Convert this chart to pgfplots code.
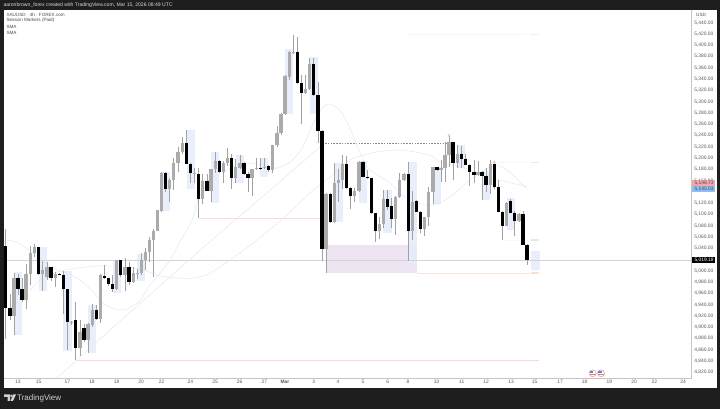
\documentclass[border=0pt]{standalone}
\usepackage{pgfplots}
\usepackage{pgfplotstable}
\usepackage{fontspec}
\setmainfont{Liberation Sans}
\pgfplotsset{compat=1.18}
\definecolor{frame}{HTML}{1E1E1E}
\definecolor{axisln}{HTML}{C6C6C6}
\definecolor{sess}{HTML}{E5ECFB}
\definecolor{upc}{HTML}{ABABAB}
\definecolor{wick}{HTML}{A2A2A2}
\definecolor{smablue}{HTML}{E0EBFB}
\definecolor{smapink}{HTML}{FBE2E2}
\definecolor{smadiag}{HTML}{ECE8E9}
\definecolor{zone}{HTML}{ECE4F0}
\definecolor{lastln}{HTML}{D4D4D4}
\definecolor{redln}{HTML}{FBD8DA}
\definecolor{oranln}{HTML}{F9E4DA}
\definecolor{yelln}{HTML}{F8F8E8}
\definecolor{tealln}{HTML}{E6F4F0}
\definecolor{yellab}{HTML}{F3F3D8}
\definecolor{teallab}{HTML}{D8F0EA}
\definecolor{oranlab}{HTML}{F9E0CE}
\definecolor{pivfill}{HTML}{FCD7D7}
\definecolor{pivdraw}{HTML}{F4AAAF}
\definecolor{tagpink}{HTML}{F4A6AA}
\definecolor{tagblue}{HTML}{8FBDF5}
\definecolor{flagring}{HTML}{F8AAB2}
\definecolor{flagred}{HTML}{EB7882}
\definecolor{flagblue}{HTML}{468CE6}
\pgfplotstableread{
x o h l c
14 4920 4997 4886 4988
26 4949 5013 4933 4995
30.3 4995 5044 4975 5032
34.3 5031 5048 5025 5042
42.7 4994 5018 4965 5001
47 4989 5016 4984 5006
55.3 4988 4998 4972 4994
71.7 4908 4911 4904 4910
80 4864 4913 4849 4892
88 4877 4908 4855 4906
92.3 4904 4942 4901 4930
100.3 4914 4995 4907 4993
116.7 4967 5020 4966 5019
125 4993 5022 4965 5006
133.3 4981 5007 4978 4996
137.3 4996 5003 4985 4997
141.3 4996 5031 4993 5020
145.3 5020 5040 5001 5034
149.7 5034 5060 5016 5055
153.7 5055 5075 4990 5071
157.7 5071 5108 5070 5108
161.7 5107 5175 5105 5174
169.7 5145 5164 5123 5162
173.7 5162 5200 5143 5192
178 5192 5220 5176 5210
182.3 5210 5237 5208 5227
194.7 5172 5183 5155 5174
202.7 5128 5172 5119 5160
211 5142 5181 5123 5180
215.3 5180 5210 5173 5195
223.3 5175 5194 5156 5191
227.7 5191 5217 5186 5201
235.7 5164 5198 5155 5184
240 5183 5205 5180 5192
252 5164 5181 5132 5180
256.3 5180 5201 5178 5182
264.7 5183 5200 5180 5185
272.7 5178 5224 5174 5223
277 5223 5257 5220 5245
281 5244 5280 5241 5279
285 5278 5347 5277 5346
289.3 5343 5390 5338 5388
293.3 5386 5418 5385 5389
305.7 5315 5347 5313 5322
309.7 5322 5377 5321 5366
326 5038 5138 4997 5137
334.3 5087 5191 5084 5155
338.3 5155 5180 5123 5161
342.7 5161 5206 5145 5190
354.7 5133 5147 5123 5142
359 5141 5194 5140 5193
379.3 5070 5096 5056 5083
383.3 5083 5144 5076 5127
395.7 5092 5132 5064 5131
399.7 5131 5173 5130 5161
404 5161 5174 5160 5172
412.3 5070 5141 5055 5123
424.7 5074 5096 5061 5095
428.7 5095 5148 5079 5139
433 5139 5185 5119 5184
441 5179 5197 5157 5183
445 5182 5229 5157 5205
449 5205 5240 5185 5228
457.3 5192 5223 5182 5208
478 5170 5194 5169 5176
490.3 5153 5197 5137 5189
506.7 5080 5122 5079 5121
519 5089 5102 5087 5101
}\upT
\pgfplotstableread{
x o h l c
5.3 5044 5075 4879 4935
10 4935 4959 4912 4920
18 4988 4995 4957 4967
22 4967 4987 4945 4949
38.7 5042 5043 4992 4994
51 5006 5007 4982 4988
59.4 4994 4996 4992 4993
63.3 4993 4999 4923 4967
67.7 4967 4968 4860 4910
75.7 4913 4944 4842 4864
84 4899 4905 4874 4877
96.3 4930 4939 4913 4914
104.3 4991 5010 4985 4987
108.3 4987 4988 4973 4976
112.7 4976 4993 4963 4967
120.7 5019 5020 4990 4993
129 5006 5016 4975 4981
165.7 5174 5176 5140 5145
186.3 5227 5250 5190 5190
190.7 5190 5191 5156 5173
198.7 5172 5182 5093 5128
207 5160 5172 5141 5142
219.3 5195 5196 5174 5175
231.7 5201 5208 5146 5164
244 5192 5193 5170 5171
248 5171 5176 5140 5164
260.3 5183 5200 5179 5181
268.7 5186 5187 5175 5178
297.3 5389 5415 5332 5333
301.7 5333 5347 5260 5315
313.7 5366 5377 5310 5311
318 5311 5335 5226 5248
322 5248 5249 5017 5038
330.3 5137 5138 5084 5087
346.7 5190 5204 5145 5147
350.7 5147 5148 5109 5133
363 5193 5195 5166 5167
367.3 5167 5179 5163 5164
371.3 5164 5165 5100 5102
375.3 5102 5103 5052 5070
387.3 5127 5144 5108 5114
391.7 5115 5129 5076 5092
408.3 5172 5193 5017 5070
416.3 5124 5125 5104 5105
420.7 5105 5106 5067 5074
437 5184 5185 5177 5178
453 5228 5229 5161 5192
461.7 5208 5222 5182 5199
465.7 5199 5208 5187 5188
469.7 5188 5189 5150 5176
474 5176 5197 5155 5170
482 5176 5177 5126 5169
486 5169 5182 5140 5153
494.3 5189 5195 5146 5149
498.3 5149 5161 5104 5105
502.3 5105 5106 5055 5080
510.7 5124 5128 5102 5103
514.7 5103 5106 5062 5089
523 5101 5106 5045 5046
527 5046 5047 5010 5019
}\dnT
\newcommand\sessbox[4]{\addplot[draw=none,fill=sess,fill opacity=0.85,forget plot] coordinates {(#1,#3)(#2,#3)(#2,#4)(#1,#4)} --cycle;}
\newcommand\fnt[1]{\fontsize{#1}{#1}\selectfont}
\begin{document}
\begin{tikzpicture}[x=1pt,y=1pt]
\useasboundingbox (0,0) rectangle (720,409);
\fill[frame] (0,0) rectangle (720,409);
\fill[white] (3.5,21.3) rectangle (716.7,399);
\begin{axis}[
  at={(4pt,30.7pt)},anchor=south west,
  scale only axis,width=687.7pt,height=368.3pt,
  xmin=4,xmax=691.7,ymin=4809.5,ymax=5462.6,
  axis x line*=bottom,axis y line*=right,
  axis line style={-,draw=axisln,line width=0.7pt},
  major tick length=0pt,
  xtick={18,38.7,67.3,92,116.7,141,161.7,190.3,215,239.7,264.3,285,313.7,338,363,387.7,408,436.7,461.7,486,511,534.7,560,584.7,609.3,634,654.3,683},
  xticklabels={13,15,17,18,19,20,22,24,25,26,27,\textbf{Mar},3,4,5,6,8,10,11,12,13,15,17,18,19,20,22,24},
  xticklabel style={font=\fnt{4.9},text=black!65,inner sep=0pt,yshift=-1.6pt},
  ytick={4820,4840,...,5000,5040,5060,...,5120,5160,5180,...,5440},
  yticklabel style={font=\fnt{4.9},text=black!65,inner sep=0pt,xshift=2.4pt,
    /pgf/number format/.cd,fixed,fixed zerofill,precision=2,1000 sep={,},assume math mode=true},
  clip=true,
]
% purple zone
\addplot[draw=none,fill=zone,forget plot] coordinates {(326,5046)(416.5,5046)(416.5,4996)(326,4996)} --cycle;
% session boxes
\sessbox{14}{22}{4998}{4886}
\sessbox{38.7}{46.7}{5042}{4965}
\sessbox{63.3}{71.7}{5000}{4858}
\sessbox{88.3}{96.3}{4939}{4854}
\sessbox{113.3}{121.3}{5019}{4961}
\sessbox{137.3}{145.3}{5030}{4982}
\sessbox{161.7}{170}{5176}{5107}
\sessbox{186.7}{195}{5250}{5145}
\sessbox{211}{219.3}{5211}{5121}
\sessbox{235.7}{244}{5205}{5155}
\sessbox{260}{268.3}{5200}{5166}
\sessbox{285}{293.3}{5393}{5278}
\sessbox{309.7}{318}{5379}{5278}
\sessbox{334.3}{342.7}{5191}{5086}
\sessbox{359}{367.3}{5194}{5121}
\sessbox{383.3}{391.7}{5144}{5067}
\sessbox{408.3}{416.5}{5193}{5014}
\sessbox{433}{441}{5184}{5118}
\sessbox{457.3}{465.3}{5223}{5182}
\sessbox{482}{490}{5177}{5125}
\sessbox{506.7}{515}{5129}{5072}
\sessbox{531.3}{539.7}{5036}{5001}
% level lines
\addplot[color=lastln,line width=0.6pt,forget plot] coordinates {(4,5019.18)(691.7,5019.18)};
\addplot[color=redln,line width=0.6pt,forget plot] coordinates {(75.7,4842)(539,4842)};
\addplot[color=redln,line width=0.6pt,forget plot] coordinates {(199,5094)(322,5094)};
\addplot[color=oranln,line width=0.6pt,forget plot] coordinates {(416.5,4996)(530,4996)};
\addplot[color=yelln,line width=0.6pt,forget plot] coordinates {(408,5419.5)(527,5419.5)};
\addplot[color=tealln,line width=0.6pt,dotted,forget plot] coordinates {(498,5192)(528,5192)};
\addplot[color=tealln,line width=0.6pt,dotted,forget plot] coordinates {(503,5055)(528,5055)};
\addplot[color=black!45,line width=0.35pt,dash pattern=on 1.6pt off 1.2pt,forget plot] coordinates {(325,5226)(447,5226)};
% faint end-of-line labels
\addplot[color=yellab,line width=1.3pt,forget plot] coordinates {(530,5419.5)(539,5419.5)};
\addplot[color=teallab,line width=1.3pt,forget plot] coordinates {(531,5192)(539,5192)};
\addplot[color=teallab,line width=1.3pt,forget plot] coordinates {(531,5055)(539,5055)};
\addplot[color=oranlab,line width=1.3pt,forget plot] coordinates {(531,4996)(539,4996)};
% moving averages
\addplot[smablue,line width=0.55pt,smooth,tension=0.4,forget plot] coordinates {(4,5055)(16.7,5051)(33,5032)(43,5019)(53,5005)(67,4996)(80,4984)(93,4963)(103,4943)(115,4932)(127,4932)(140,4948)(150,4975)(160,4996)(170,5019)(180,5052)(192,5090)(198,5126)(205,5150)(210,5165)(218,5170)(230,5182)(243,5191)(263,5188)(277,5182)(290,5193)(303,5220)(317,5276)(328,5296)(340,5285)(350,5253)(360,5209)(370,5179)(390,5156)(400,5138)(410,5126)(425,5117)(435,5117)(440,5120)(453,5135)(470,5161)(487,5182)(500,5186)(513,5170)(527,5145)};
\addplot[smapink,line width=0.55pt,smooth,tension=0.4,forget plot] coordinates {(30,4966)(40,4984)(57,4998)(77,5005)(100,5009)(123,5007)(143,5002)(160,4991)(180,4987)(193,4987)(207,4993)(220,5007)(233,5023)(253,5049)(273,5078)(287,5099)(310,5138)(330,5166)(350,5197)(377,5211)(403,5214)(430,5205)(440,5193)(470,5179)(500,5161)(527,5149)};
\addplot[smadiag,line width=0.55pt,forget plot] coordinates {(57,4810)(120,4911)(180,5005)(223,5072)(270,5143)(320,5220)};
% candle wicks
\addplot[draw=none,mark=none,forget plot,error bars/.cd,y dir=both,y explicit,error mark=none,
  error bar style={color=wick,line width=0.55pt}]
  table[x=x,y expr=\thisrow{h},y error plus expr=0,y error minus expr=\thisrow{h}-\thisrow{l}] {\upT};
\addplot[draw=none,mark=none,forget plot,error bars/.cd,y dir=both,y explicit,error mark=none,
  error bar style={color=wick,line width=0.55pt}]
  table[x=x,y expr=\thisrow{h},y error plus expr=0,y error minus expr=\thisrow{h}-\thisrow{l}] {\dnT};
% candle bodies
\addplot[draw=none,mark=none,forget plot,error bars/.cd,y dir=both,y explicit,error mark=none,
  error bar style={color=upc,line width=3.1pt}]
  table[x=x,y expr=\thisrow{c},y error plus expr=0,y error minus expr=\thisrow{c}-\thisrow{o}] {\upT};
\addplot[draw=none,mark=none,forget plot,error bars/.cd,y dir=both,y explicit,error mark=none,
  error bar style={color=black,line width=3.1pt}]
  table[x=x,y expr=\thisrow{o},y error plus expr=0,y error minus expr=\thisrow{o}-\thisrow{c}] {\dnT};
% pivot markers
\addplot[only marks,mark=*,mark size=1.2pt,mark options={fill=pivfill,draw=pivdraw,line width=0.3pt},forget plot] coordinates {(449,5240)(494.3,5192)};
\end{axis}
% price tags
\fill[tagpink] (692.2,222.6) rectangle (715,228.6);
\node[anchor=west,inner sep=0pt,text=black!70] at (694.3,225.6) {\fnt{4.9}5,148.73};
\fill[tagblue] (692.2,216.7) rectangle (715,222.6);
\node[anchor=west,inner sep=0pt,text=black!70] at (694.3,219.7) {\fnt{4.9}5,145.03};
\fill[black] (692.2,145.7) rectangle (715,151.7);
\node[anchor=west,inner sep=0pt,text=white] at (694.3,148.7) {\fnt{4.9}5,019.18};
% header text
\node[anchor=west,inner sep=0pt,text=black!15] at (3.3,403.7) {\fnt{5.1}aaronbrown\_forex created with TradingView.com, Mar 15, 2026 08:49 UTC};
\node[anchor=west,inner sep=0pt,text=black!70] at (6.3,394.3) {\fnt{4.6}XAUUSD · 4h · FOREX.com};
\node[anchor=west,inner sep=0pt,text=black!70] at (6.3,388.3) {\fnt{4.6}Session Markers (Paid)};
\node[anchor=west,inner sep=0pt,text=black!70] at (6.3,382.3) {\fnt{4.6}SMA};
\node[anchor=west,inner sep=0pt,text=black!70] at (6.3,376.3) {\fnt{4.6}SMA};
\node[anchor=west,inner sep=0pt,text=black!70] at (696,394) {\fnt{4.6}USD};
% currency flags
\foreach \cx in {592.7,601}{
  \fill[flagring] (\cx,35.7) circle (3.9);
  \fill[white] (\cx,35.7) circle (2.9);
  \fill[flagred] (\cx-2.8,34.3) rectangle (\cx+2.8,35.1);
  \fill[flagblue] (\cx-2.6,35.7) rectangle (\cx+0.6,38);
}
% TradingView logo
\fill[black!18] (4,14.5) -- (10,14.5) -- (10,8) -- (7.5,8) -- (7.5,12) -- (4,12) -- cycle;
\fill[black!18] (11.3,13.2) circle (1.25);
\fill[black!18] (13,14.5) -- (16,14.5) -- (13,8) -- (10.5,8) -- cycle;
\node[anchor=west,inner sep=0pt,text=black!18] at (17,11) {\fnt{8}TradingView};
\end{tikzpicture}
\end{document}
